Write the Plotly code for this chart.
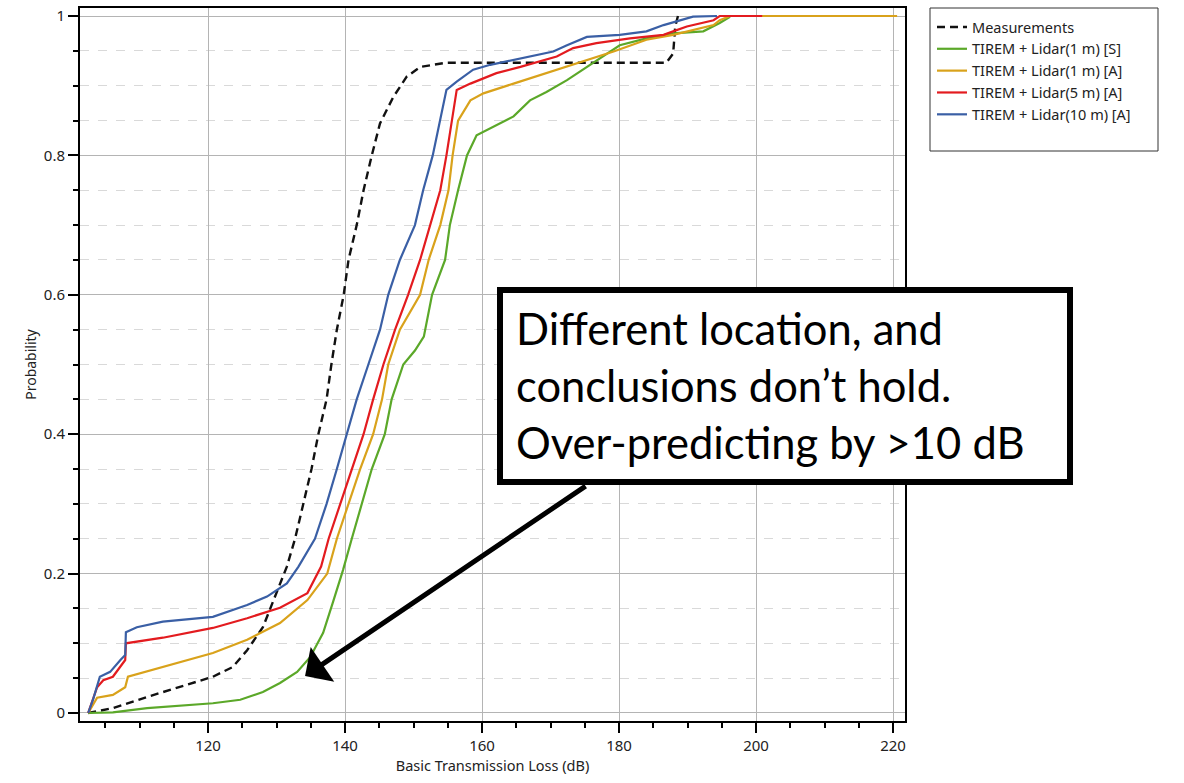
import plotly.graph_objects as go

# ---------------- data ----------------
meas_x = [102.5, 106.1, 111.1, 115.9, 120.7, 123.6, 125.7, 128.0, 130.0, 131.5, 132.7, 133.9,
          135.1, 136.1, 137.3, 138.0, 138.8, 139.8, 140.5, 141.7, 142.7, 143.9, 145.1, 147.05,
          149.0, 151.0, 154.8, 170.0, 186.9, 187.9, 188.2, 188.6]
meas_y = [0.0, 0.007, 0.023, 0.037, 0.052, 0.066, 0.09, 0.123, 0.172, 0.21, 0.25, 0.30,
          0.35, 0.40, 0.45, 0.50, 0.55, 0.60, 0.65, 0.70, 0.75, 0.80, 0.846, 0.884,
          0.913, 0.927, 0.933, 0.933, 0.933, 0.946, 0.985, 1.0]

green_x = [102.5, 106.1, 111.1, 115.9, 120.7, 124.7, 128.0, 130.5, 133.0, 134.9, 136.8, 138.2,
           139.7, 140.98, 142.4, 143.9, 145.8, 146.8, 148.5, 150.2, 151.5, 152.7, 154.6, 155.3,
           156.5, 157.8, 159.2, 162.1, 164.6, 167.0, 169.4, 172.4, 175.3, 178.2, 180.1, 184.0,
           187.9, 192.3, 194.7, 196.2]
green_y = [0.0, 0.001, 0.007, 0.010, 0.014, 0.019, 0.030, 0.043, 0.059, 0.080, 0.115, 0.158,
           0.205, 0.25, 0.30, 0.35, 0.40, 0.45, 0.50, 0.52, 0.54, 0.60, 0.65, 0.70,
           0.75, 0.80, 0.829, 0.844, 0.856, 0.879, 0.891, 0.908, 0.927, 0.946, 0.958, 0.968,
           0.975, 0.978, 0.99, 0.999]

orange_x = [102.5, 103.8, 106.1, 107.9, 108.3, 113.4, 120.7, 125.7, 130.5, 134.5, 137.4, 138.8,
            140.5, 142.2, 144.1, 145.4, 146.3, 148.0, 150.95, 152.2, 153.9, 155.1, 155.7, 156.5,
            158.3, 160.2, 164.6, 169.4, 174.3, 179.2, 184.0, 187.9, 193.8, 194.7, 196.2, 220.6]
orange_y = [0.0, 0.022, 0.026, 0.037, 0.052, 0.066, 0.086, 0.105, 0.129, 0.162, 0.20, 0.25,
            0.30, 0.35, 0.40, 0.45, 0.50, 0.55, 0.60, 0.65, 0.70, 0.75, 0.80, 0.85,
            0.879, 0.889, 0.903, 0.918, 0.934, 0.949, 0.966, 0.973, 0.987, 0.994, 1.0, 1.0]

red_x = [102.5, 103.8, 104.7, 106.1, 107.9, 108.0, 113.4, 120.7, 125.7, 130.5, 134.5, 136.5,
         137.6, 139.3, 140.98, 142.7, 144.1, 145.6, 147.3, 149.2, 150.95, 152.4, 153.9, 154.8,
         155.6, 156.3, 158.3, 162.1, 165.6, 170.9, 173.3, 176.7, 181.6, 186.5, 187.9, 189.9,
         193.8, 194.7, 200.9]
red_y = [0.0, 0.037, 0.047, 0.052, 0.076, 0.100, 0.108, 0.122, 0.136, 0.151, 0.172, 0.21,
         0.25, 0.30, 0.35, 0.40, 0.45, 0.50, 0.55, 0.60, 0.65, 0.70, 0.75, 0.80,
         0.85, 0.894, 0.903, 0.918, 0.927, 0.942, 0.954, 0.961, 0.968, 0.973, 0.978, 0.985,
         0.994, 1.0, 1.0]

blue_x = [102.5, 103.2, 104.2, 105.7, 107.2, 107.9, 108.0, 109.6, 113.4, 120.7, 125.7, 128.6,
          131.5, 133.2, 135.6, 137.3, 138.8, 140.2, 141.7, 143.4, 145.1, 146.3, 148.0, 150.2,
          151.4, 152.8, 153.9, 154.8, 156.3, 158.7, 161.2, 167.0, 170.4, 172.4, 175.3, 180.1,
          184.0, 186.5, 187.9, 190.8, 194.3]
blue_y = [0.0, 0.019, 0.052, 0.059, 0.076, 0.083, 0.116, 0.123, 0.131, 0.138, 0.155, 0.167,
          0.186, 0.21, 0.25, 0.30, 0.35, 0.40, 0.45, 0.50, 0.55, 0.60, 0.65, 0.70,
          0.75, 0.80, 0.85, 0.894, 0.906, 0.923, 0.930, 0.942, 0.949, 0.958, 0.970, 0.973,
          0.978, 0.987, 0.991, 0.999, 1.0]

series_names = ["Measurements", "TIREM + Lidar(1 m) [S]", "TIREM + Lidar(1 m) [A]",
                "TIREM + Lidar(5 m) [A]", "TIREM + Lidar(10 m) [A]"]
x_ticks = [120, 140, 160, 180, 200, 220]
y_ticks = [0, 0.2, 0.4, 0.6, 0.8, 1]
callout_lines = ["Different location, and", "conclusions don\u2019t hold.", "Over-predicting by >10 dB"]
arrow_head = (134.16, 0.053)

# ---------------- figure ----------------
W, H = 1184, 783
L, R, T, B = 80, 279, 8, 62
PW, PH = W - L - R, H - T - B


def px(x):
    return (x - L) / PW


def py(y):
    return (H - B - y) / PH


colors = ["#111111", "#5BA829", "#D9A21B", "#E31B1F", "#3A5FA5"]
data = [(meas_x, meas_y), (green_x, green_y), (orange_x, orange_y), (red_x, red_y), (blue_x, blue_y)]

fig = go.Figure()
for name, (xs, ys), c in zip(series_names, data, colors):
    dash = "8px,5px" if name == "Measurements" else "solid"
    fig.add_trace(go.Scatter(x=xs, y=ys, mode="lines", name=name,
                             line=dict(color=c, width=2.4 if name == "Measurements" else 2.2, dash=dash)))

fig.update_layout(
    width=W, height=H,
    margin=dict(l=L, r=R, t=T, b=B),
    plot_bgcolor="white", paper_bgcolor="white",
    font=dict(family="Noto Sans", size=15, color="#222222"),
    xaxis=dict(range=[101.3, 221.75], tickvals=x_ticks, ticks="outside", ticklen=10, tickwidth=1.5,
               tickcolor="black", showline=True, linecolor="black", linewidth=2, mirror=True,
               showgrid=True, gridcolor="#b4b4b4", gridwidth=1, zeroline=False, automargin=False,
               minor=dict(dtick=5, tick0=0, ticks="outside", ticklen=5, tickwidth=1.5, tickcolor="black", showgrid=False),
               title=dict(text="Basic Transmission Loss (dB)", font=dict(size=14.5), standoff=6)),
    yaxis=dict(range=[-0.0115, 1.0115], tickvals=y_ticks, ticks="outside", ticklen=10, tickwidth=1.5,
               tickcolor="black", showline=True, linecolor="black", linewidth=2, mirror=True,
               showgrid=True, gridcolor="#b4b4b4", gridwidth=1, zeroline=False, automargin=False,
               minor=dict(dtick=0.05, tick0=0, ticks="outside", ticklen=5, tickwidth=1.5, tickcolor="black",
                          showgrid=True, gridcolor="#d9d9d9", griddash="dash", gridwidth=1),
               title=dict(text="Probability", font=dict(size=14), standoff=4)),
    legend=dict(x=px(932), y=py(11), xanchor="left", yanchor="top", borderwidth=0,
                bgcolor="rgba(0,0,0,0)", font=dict(size=14.5, color="#222222"), tracegroupgap=0, itemwidth=30),
    showlegend=True,
)

# legend frame
fig.add_shape(type="rect", xref="paper", yref="paper", x0=px(930), x1=px(1158), y0=py(151), y1=py(8),
              line=dict(color="#333333", width=1), fillcolor="rgba(0,0,0,0)", layer="above")

# callout box
fig.add_shape(type="rect", xref="paper", yref="paper", x0=px(500), x1=px(1070), y0=py(482), y1=py(290),
              line=dict(color="black", width=6), fillcolor="white", layer="above")

for line, cy in zip(callout_lines, [328, 385, 442]):
    fig.add_annotation(text=line, xref="paper", yref="paper", x=px(514), y=py(cy), xanchor="left",
                       yanchor="middle", showarrow=False, font=dict(family="Lato", size=43.5, color="black"))

fig.add_annotation(text="", x=arrow_head[0], y=arrow_head[1], xref="x", yref="y", ax=282, ay=-191,
                   showarrow=True, arrowhead=1, arrowsize=1.4, arrowwidth=5, arrowcolor="black", standoff=0)

fig.write_html("out.html", config={"displayModeBar": False},
               post_script="document.body.style.margin='0';document.body.style.overflow='hidden';")
